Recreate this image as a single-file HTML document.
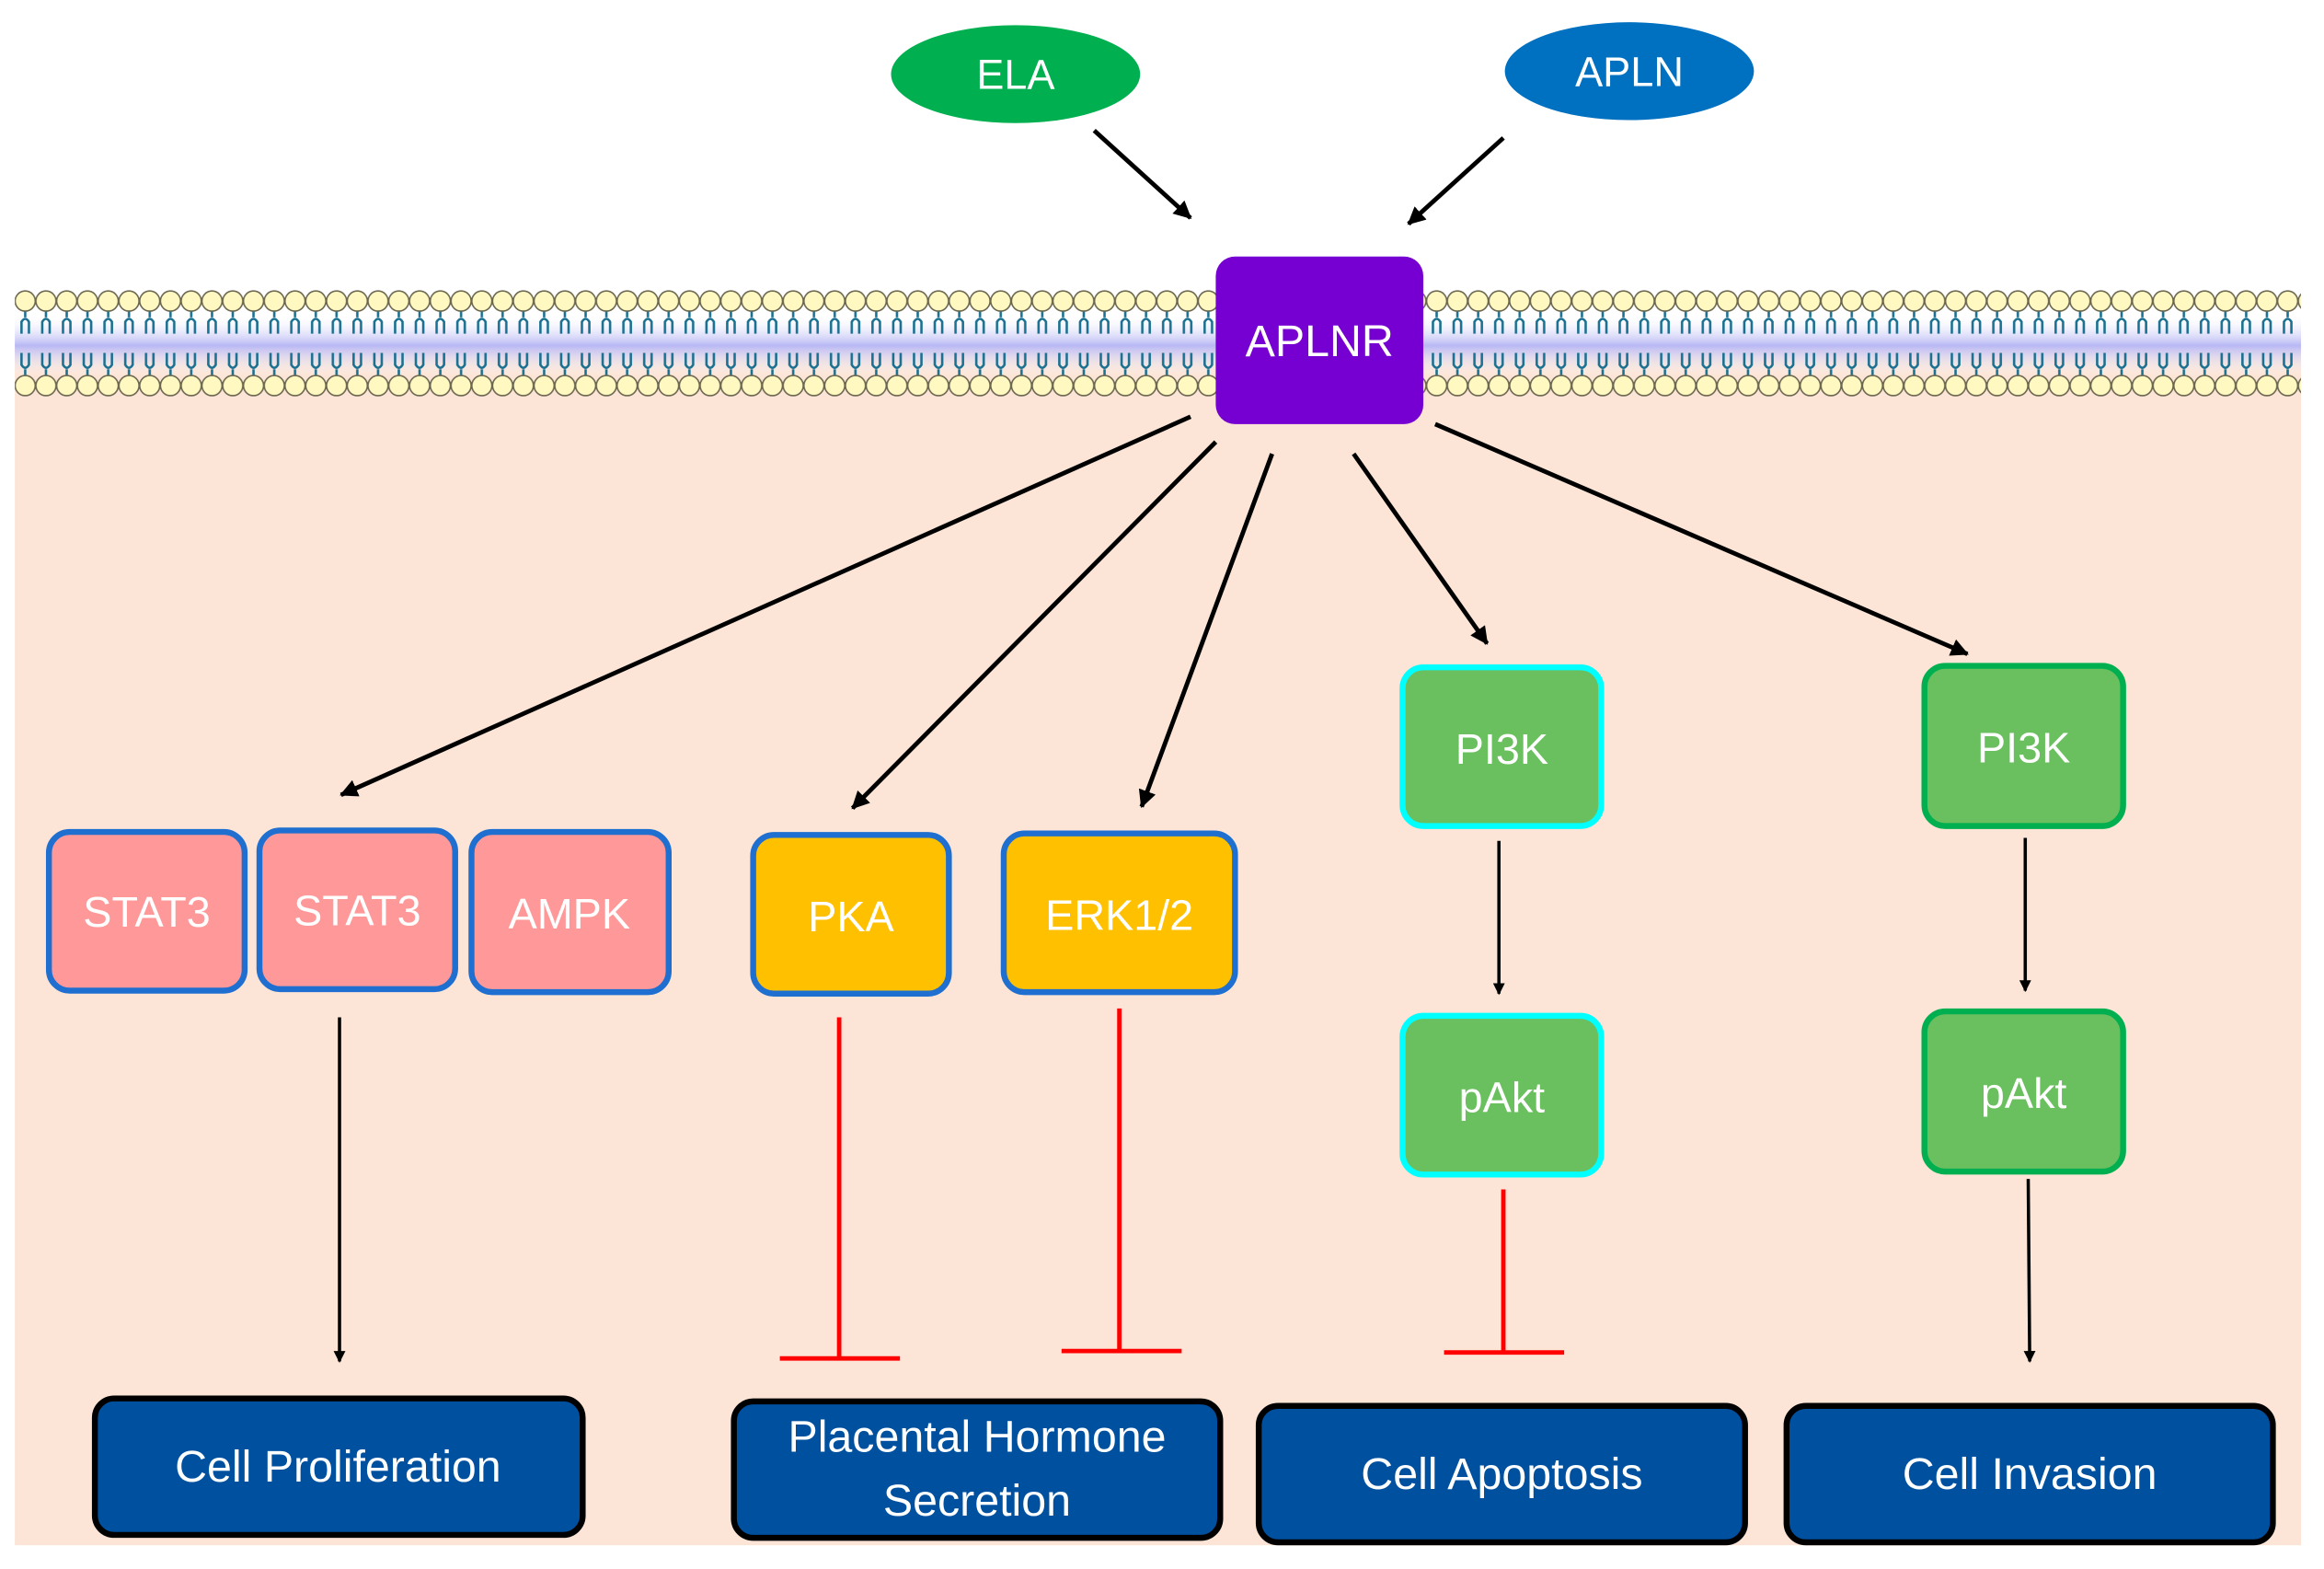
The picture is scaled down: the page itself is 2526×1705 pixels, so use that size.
<!DOCTYPE html>
<html><head><meta charset="utf-8"><style>
html,body{margin:0;padding:0;background:#fff;}
svg{display:block;}
text{font-family:"Liberation Sans",sans-serif;fill:#fff;text-anchor:middle;}
</style></head><body>
<svg width="2526" height="1705" viewBox="0 0 1567.5 1058" preserveAspectRatio="none" xmlns="http://www.w3.org/2000/svg">
<defs>
<pattern id="lip" x="10" y="0" width="14" height="1053" patternUnits="userSpaceOnUse">
<g stroke="#1a7090" stroke-width="1.6" fill="none">
<path d="M7 209 V214 M4.5 225 V217 Q7 213 9.5 217 V225"/>
<path d="M7 254 V249 M4.5 238 V246 Q7 250 9.5 246 V238"/>
</g>
<circle cx="7" cy="203" r="6.8" fill="#fff8c0" stroke="#6a6650" stroke-width="1"/>
<circle cx="7" cy="260" r="6.8" fill="#fff8c0" stroke="#6a6650" stroke-width="1"/>
</pattern>
<linearGradient id="band" x1="0" y1="0" x2="0" y2="1">
<stop offset="0" stop-color="#fff" stop-opacity="0"/>
<stop offset="0.5" stop-color="#b8b8f5"/>
<stop offset="1" stop-color="#fff" stop-opacity="0"/>
</linearGradient>
<marker id="ah" markerWidth="8" markerHeight="8" refX="7" refY="4" orient="auto" markerUnits="userSpaceOnUse"><path d="M0,0 L8,4 L0,8 z" fill="#000"/></marker>
<marker id="ah2" markerWidth="12" markerHeight="12" refX="11" refY="6" orient="auto" markerUnits="userSpaceOnUse"><path d="M0,0 L12,6 L0,12 z" fill="#000"/></marker>
</defs>
<rect x="10" y="232" width="1542" height="810" fill="#fce5d6"/>
<rect x="10" y="212" width="1542" height="42" fill="url(#band)"/>
<rect x="10" y="194" width="1542" height="74" fill="url(#lip)"/>

<ellipse cx="685" cy="50" rx="84" ry="33" fill="#00b050"/>
<text x="685" y="60" font-size="28">ELA</text>
<ellipse cx="1099" cy="48" rx="84" ry="33" fill="#0070c0"/>
<text x="1099" y="58" font-size="28">APLN</text>

<g stroke="#000" stroke-width="3" marker-end="url(#ah2)">
<line x1="738" y1="88" x2="803" y2="147"/>
<line x1="1014" y1="93" x2="950" y2="151"/>
<line x1="803" y1="281" x2="230" y2="536"/>
<line x1="820" y1="298" x2="575" y2="545"/>
<line x1="858" y1="306" x2="770" y2="544"/>
<line x1="913" y1="306" x2="1003" y2="434"/>
<line x1="968" y1="286" x2="1327" y2="441"/>
</g>
<g stroke="#000" stroke-width="2.2" marker-end="url(#ah)">
<line x1="229" y1="686" x2="229" y2="918"/>
<line x1="1011" y1="567" x2="1011" y2="670"/>
<line x1="1366" y1="565" x2="1366" y2="668"/>
<line x1="1368" y1="795" x2="1369" y2="918"/>
</g>
<g stroke="#ff0000" stroke-width="3">
<line x1="566" y1="686" x2="566" y2="916"/><line x1="526" y1="916" x2="607" y2="916"/>
<line x1="755" y1="680" x2="755" y2="911"/><line x1="716" y1="911" x2="797" y2="911"/>
<line x1="1014" y1="802" x2="1014" y2="912"/><line x1="974" y1="912" x2="1055" y2="912"/>
</g>

<rect x="820" y="173" width="140" height="113" rx="13" fill="#7600d2"/>
<text x="890" y="240" font-size="30">APLNR</text>

<g stroke="#1f6fd0" stroke-width="4">
<rect x="33" y="561" width="132" height="107" rx="14" fill="#ff9999"/>
<rect x="175" y="560" width="132" height="107" rx="14" fill="#ff9999"/>
<rect x="318" y="561" width="133" height="108" rx="14" fill="#ff9999"/>
<rect x="508" y="563" width="132" height="107" rx="14" fill="#ffc000"/>
<rect x="677" y="562" width="156" height="107" rx="14" fill="#ffc000"/>
</g>
<g font-size="29">
<text x="99" y="625">STAT3</text>
<text x="241" y="624">STAT3</text>
<text x="384" y="626">AMPK</text>
<text x="574" y="628">PKA</text>
<text x="755" y="627">ERK1/2</text>
</g>
<g stroke="#00ffff" stroke-width="4" fill="#6abf5e">
<rect x="946" y="450" width="134" height="107" rx="14"/>
<rect x="946" y="685" width="134" height="107" rx="14"/>
</g>
<g stroke="#00b050" stroke-width="4" fill="#6abf5e">
<rect x="1298" y="449" width="134" height="108" rx="14"/>
<rect x="1298" y="682" width="134" height="108" rx="14"/>
</g>
<g font-size="29">
<text x="1013" y="515">PI3K</text>
<text x="1013" y="750">pAkt</text>
<text x="1365" y="514">PI3K</text>
<text x="1365" y="747">pAkt</text>
</g>
<g stroke="#000" stroke-width="4" fill="#0050a0">
<rect x="64" y="943" width="329" height="92" rx="13"/>
<rect x="495" y="945" width="328" height="92" rx="13"/>
<rect x="849" y="948" width="328" height="92" rx="13"/>
<rect x="1205" y="948" width="328" height="92" rx="13"/>
</g>
<g font-size="30">
<text x="228" y="999">Cell Proliferation</text>
<text x="659" y="979">Placental Hormone</text>
<text x="659" y="1022">Secretion</text>
<text x="1013" y="1004">Cell Apoptosis</text>
<text x="1369" y="1004">Cell Invasion</text>
</g>
</svg>
</body></html>
